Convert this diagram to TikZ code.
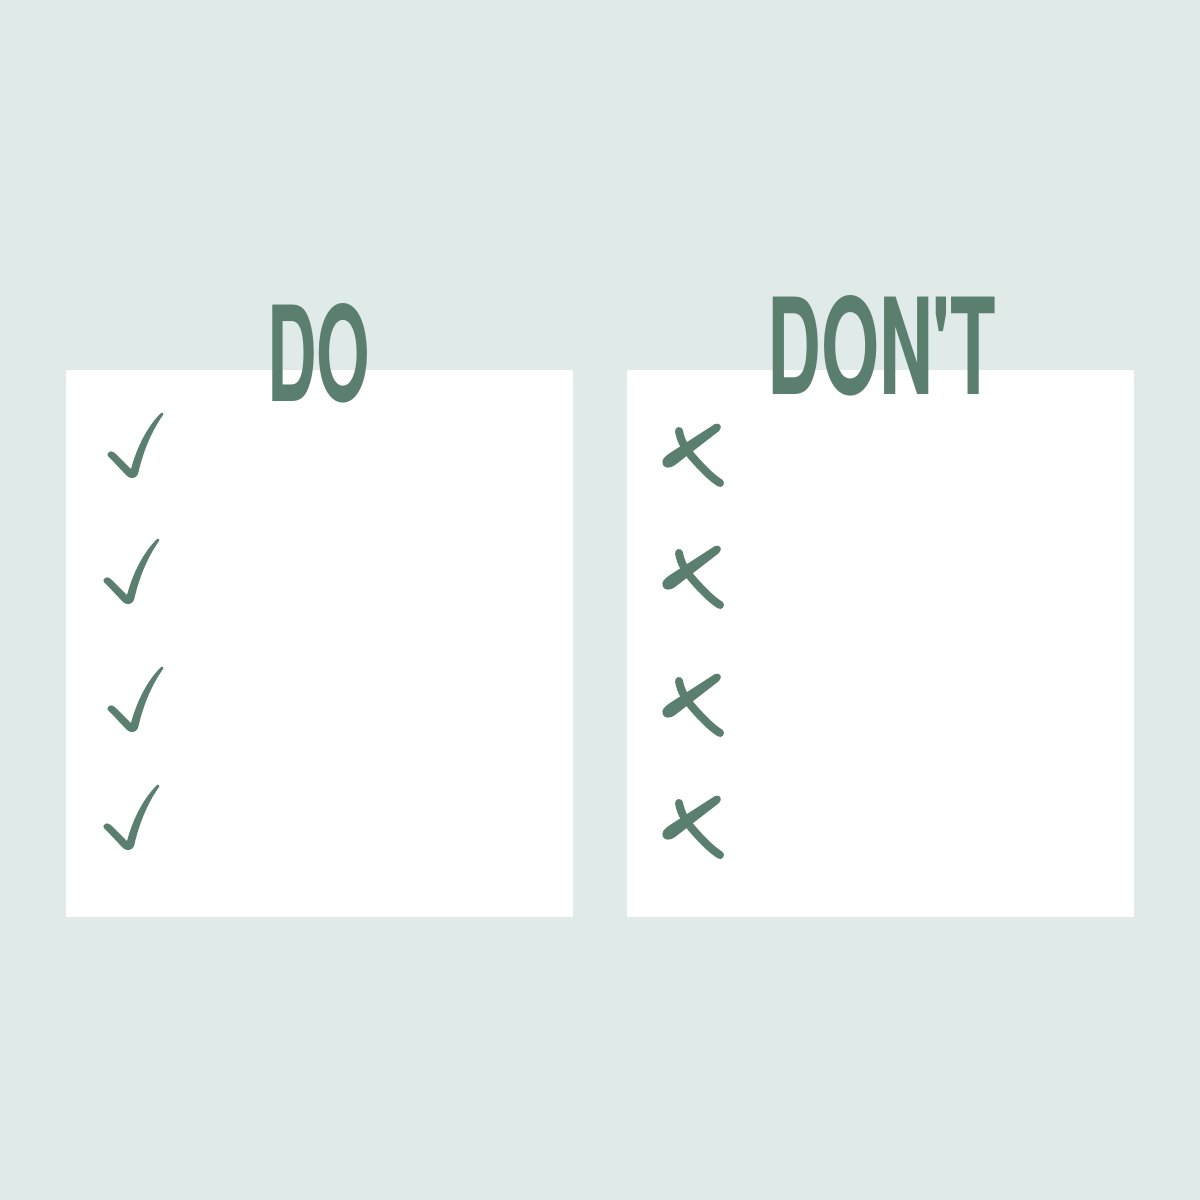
\documentclass[tikz,border=0pt]{standalone}
\usepackage{fontspec}
\newfontfamily\headfont{TeX Gyre Heros}
\definecolor{bg}{HTML}{E0EAE8}
\definecolor{gr}{HTML}{5B7F6E}
\tikzset{
  panel/.style={fill=white, draw=none},
  heading/.style={text=gr, inner sep=0pt, anchor=south west, font=\headfont\bfseries},
  checkmark/.pic={
    \fill[gr, line cap=round, line join=round]
      (-24,-25) .. controls (-21,-27) and (-18,-24) .. (-14,-20)
      -- (-2,-8) .. controls (4,-30) and (14,-50) .. (28,-64)
      .. controls (30,-65) and (31,-64) .. (30,-62)
      .. controls (18,-45) and (10,-25) .. (5,-3)
      .. controls (3,2) and (-3,2) .. (-6,-1)
      -- (-22,-18) .. controls (-27,-22) and (-26,-24) .. (-24,-25) -- cycle;
  },
  crossmark/.pic={
    \fill[gr] (1,45) .. controls (-1,40) and (2,37) .. (8,33)
      -- (53,4) .. controls (58,2) and (61,7) .. (57,11)
      -- (13,45) .. controls (7,49) and (3,48) .. (1,45) -- cycle;
    \draw[gr, line width=8pt, line cap=round] (17,11) .. controls (19,22) and (24,30) .. (33,40) .. controls (42,50) and (50,58) .. (58,63);
  }
}
\begin{document}
\begin{tikzpicture}[x=1pt,y=-1pt]
\useasboundingbox (0,0) rectangle (1200,1200);
\fill[bg] (0,0) rectangle (1200,1200);
\path[panel] (66,370) rectangle (573,917);
\path[panel] (627,370) rectangle (1134,917);
\node[heading] (do) at (267,403) {\resizebox{103pt}{98pt}{DO}};
\node[heading] (dont) at (767,396) {\resizebox{229pt}{99pt}{DON'T}};
\pic at (133,477) {checkmark};
\pic at (129,603) {checkmark};
\pic at (133,731) {checkmark};
\pic at (129,849) {checkmark};
\pic at (662,420) {crossmark};
\pic at (662,542) {crossmark};
\pic at (662,670) {crossmark};
\pic at (662,792) {crossmark};
\end{tikzpicture}
\end{document}
